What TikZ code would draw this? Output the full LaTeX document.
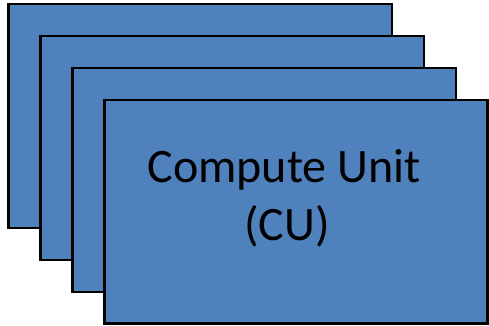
\documentclass[tikz,border=0pt]{standalone}
\usepackage{fontspec}
\setmainfont{Carlito}
\begin{document}
\begin{tikzpicture}[x=1pt,y=-1pt,
  card/.style={draw=black,line width=2.2pt,fill=cublue},
  lbl/.style={anchor=base,inner sep=0pt,font=\fontsize{48}{58}\selectfont}]
\definecolor{cublue}{HTML}{4F81BD}
\useasboundingbox (0,0) rectangle (489,326);
\draw[card] (8.5,4) rectangle (392,228);
\draw[card] (40.5,36) rectangle (424,260);
\draw[card] (72.5,68) rectangle (456,292);
\draw[card] (104.5,100) rectangle (487.5,323.5);
\node[lbl] (cu1) at (284,182) {Compute Unit};
\node[lbl] (cu2) at (287,240) {(CU)};
\end{tikzpicture}
\end{document}
